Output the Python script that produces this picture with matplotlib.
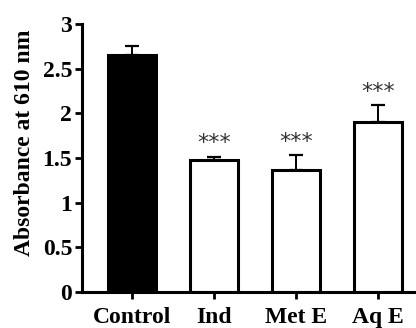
import matplotlib
matplotlib.use("Agg")
import matplotlib.pyplot as plt

categories = ["Control", "Ind", "Met E", "Aq E"]
values = [2.65, 1.48, 1.37, 1.90]
errors = [0.10, 0.03, 0.16, 0.19]
signif = ["", "***", "***", "***"]
yticks = [0, 0.5, 1, 1.5, 2, 2.5, 3]
ytick_labels = ["0", "0.5", "1", "1.5", "2", "2.5", "3"]
colors = ["black", "white", "white", "white"]

plt.rcParams['font.family'] = ['Liberation Serif', 'DejaVu Serif']

fig = plt.figure(figsize=(4.16, 3.28), dpi=100)
ax = fig.add_axes([0.197, 0.110, 0.803, 0.817])

x = list(range(len(categories)))
ax.bar(x, values, width=0.585, color=colors, edgecolor="black", linewidth=2.2, zorder=2)
for xi, v, e in zip(x, values, errors):
    ax.errorbar([xi], [v], yerr=[[0], [e]], fmt="none", ecolor="black",
                elinewidth=1.4, capsize=5, capthick=1.6, zorder=1)
for xi, v, e, s in zip(x, values, errors, signif):
    if s:
        ax.text(xi, v + e + 0.04, s, ha="center", va="bottom", fontsize=16,
                color="#333333", family="DejaVu Sans")

ax.set_xlim(-0.61, 3.46)
ax.set_ylim(0, 3)
ax.set_yticks(yticks)
ax.set_yticklabels(ytick_labels, fontsize=17, fontweight="bold")
ax.set_xticks(x)
ax.set_xticklabels(categories, fontsize=17, fontweight="bold")
ax.set_ylabel("Absorbance at 610 nm", fontsize=17, fontweight="bold")
ax.yaxis.set_label_coords(-0.14, 0.555)

for s in ["top", "right"]:
    ax.spines[s].set_visible(False)
for s in ["left", "bottom"]:
    ax.spines[s].set_linewidth(2.2)
ax.tick_params(axis="y", width=2.0, length=5, direction="out", pad=2)
ax.tick_params(axis="x", width=2.0, length=5, direction="out", pad=6)

fig.savefig("out.png", dpi=100)
